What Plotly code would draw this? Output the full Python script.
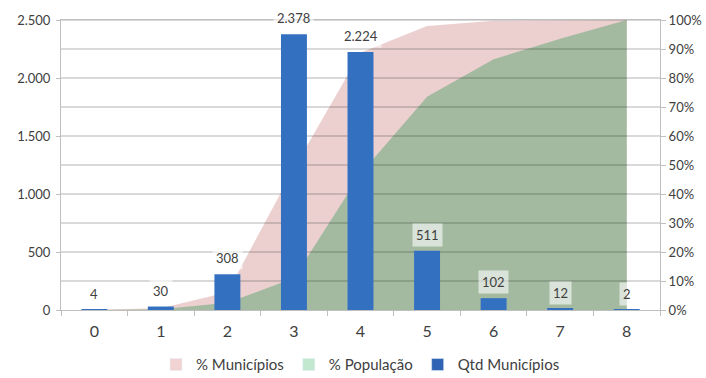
import plotly.graph_objects as go

# Número de municípios por faixa (0 a 8)
faixas = [0, 1, 2, 3, 4, 5, 6, 7, 8]
faixa_labels = ["0", "1", "2", "3", "4", "5", "6", "7", "8"]
qtd_municipios = [4, 30, 308, 2378, 2224, 511, 102, 12, 2]

# Percentuais acumulados (eixo secundário)
pct_municipios = [0.001, 0.006, 0.061, 0.488, 0.887, 0.979, 0.997, 0.9996, 1.0]
pct_populacao = [0.0, 0.003, 0.025, 0.11, 0.47, 0.735, 0.865, 0.935, 1.0]

# Escalas dos eixos
pct_ticks = [0.0, 0.1, 0.2, 0.3, 0.4, 0.5, 0.6, 0.7, 0.8, 0.9, 1.0]
qtd_ticks = [0, 500, 1000, 1500, 2000, 2500]

FONT = "Lato, 'Open Sans', sans-serif"
TXT = "#404040"
AXIS = "#bfbfbf"

COR_MUN = "#ecd0d0"
COR_POP = "#a3baa0"
COR_QTD = "#3470c0"

x_lo, x_hi = faixas[0] - 0.5, faixas[-1] + 0.5

fig = go.Figure()

fig.add_trace(go.Scatter(
    x=faixas, y=pct_municipios, name="% Municípios", showlegend=False,
    mode="lines", line=dict(width=0), fill="tozeroy",
    fillcolor=COR_MUN, xaxis="x", yaxis="y", hoverinfo="skip",
))
fig.add_trace(go.Scatter(
    x=faixas, y=pct_populacao, name="% População", showlegend=False,
    mode="lines", line=dict(width=0), fill="tozeroy",
    fillcolor=COR_POP, xaxis="x", yaxis="y", hoverinfo="skip",
))

# Linhas de grade translúcidas sobre as áreas (abaixo das colunas)
gx, gy = [], []
for v in pct_ticks[1:]:
    gx += [x_lo, x_hi, None]
    gy += [v, v, None]
fig.add_trace(go.Scatter(
    x=gx, y=gy, mode="lines", showlegend=False, hoverinfo="skip",
    line=dict(color="rgba(0,0,0,0.3)", width=1), xaxis="x", yaxis="y",
))

fig.add_trace(go.Bar(
    x=faixas, y=qtd_municipios, name="Qtd Municípios", showlegend=False,
    marker=dict(color=COR_QTD, line=dict(width=0)),
    width=0.39, xaxis="x", yaxis="y2", hoverinfo="skip",
))

# Entradas da legenda com marcadores quadrados
for nome, cor in [("% Municípios", "#f2d3d3"),
                  ("% População", "#c2e8cf"),
                  ("Qtd Municípios", "#2f64b4")]:
    fig.add_trace(go.Bar(
        x=[None], y=[None], name=nome, marker=dict(color=cor),
        xaxis="x", yaxis="y2", showlegend=True, hoverinfo="skip",
    ))

# Rótulos de dados com fundo translúcido
for xv, v in zip(faixas, qtd_municipios):
    fig.add_annotation(
        x=xv, y=v, xref="x", yref="y2", yshift=16,
        text=f"{v:,}".replace(",", "."), showarrow=False,
        bgcolor="rgba(255,255,255,0.6)", borderpad=3,
        font=dict(family=FONT, size=13, color=TXT),
    )

fig.update_layout(
    width=706, height=378,
    margin=dict(l=61, r=46, t=20, b=68, autoexpand=False),
    paper_bgcolor="white", plot_bgcolor="white",
    separators=",.",
    font=dict(family=FONT, color=TXT),
    barmode="overlay",
    xaxis=dict(
        range=[x_lo, x_hi], tickmode="array", tickvals=faixas,
        ticktext=faixa_labels, ticks="", showgrid=False, zeroline=False,
        showline=True, linecolor=AXIS, linewidth=1, mirror=True,
        tickfont=dict(size=16, color=TXT), automargin=False,
        ticklabelstandoff=7,
        minor=dict(tickmode="array",
                   tickvals=[f - 0.5 for f in faixas] + [x_hi],
                   ticks="outside", ticklen=5, tickcolor=AXIS, showgrid=False),
    ),
    yaxis=dict(
        side="right", range=[0, 1], tickmode="array", tickvals=pct_ticks,
        tickformat=".0%", showgrid=False, zeroline=False, automargin=False,
        showline=True, linecolor=AXIS, ticks="outside", ticklen=5,
        tickcolor=AXIS, tickfont=dict(size=13, color=TXT),
    ),
    yaxis2=dict(
        overlaying="y", side="left", anchor="x", range=[0, 2500],
        tickmode="array", tickvals=qtd_ticks, tickformat=",d",
        separatethousands=True, showgrid=False, zeroline=False,
        automargin=False, ticklabelstandoff=3,
        showline=True, linecolor=AXIS, ticks="outside", ticklen=4,
        tickcolor=AXIS, tickfont=dict(size=13, color=TXT),
    ),
    legend=dict(
        orientation="h", x=0.5, xanchor="center",
        yref="container", y=0.035, yanchor="middle",
        font=dict(family=FONT, size=15, color=TXT), itemwidth=30,
        bgcolor="rgba(0,0,0,0)", traceorder="normal",
    ),
    showlegend=True,
)

fig.write_html("out.html")
